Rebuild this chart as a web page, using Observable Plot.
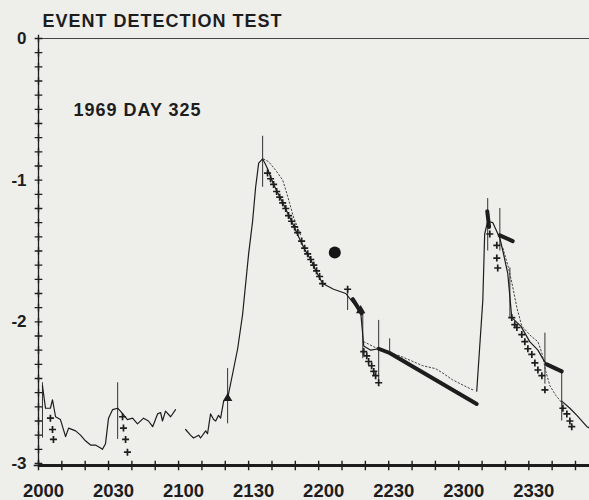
<!DOCTYPE html>
<html>
<head>
<meta charset="utf-8">
<script src="https://cdn.jsdelivr.net/npm/d3@7"></script>
<script src="https://cdn.jsdelivr.net/npm/@observablehq/plot@0.6"></script>
<style>
  body { margin: 0; background: #eeeeeb; }
  #chart svg { background: transparent; }
</style>
</head>
<body>
<div id="chart"></div>
<script>
// ---- data (x: minutes after 2000, y: value) ----
const titleText = ["EVENT DETECTION TEST"];
const noteText = ["1969 DAY 325"];
const xTickLabels = [0, 30, 60, 90, 120, 150, 180, 210];
const yTickLabels = [0, -1, -2, -3];

const trace1 = [[1.7,-2.45],[3.0,-2.61],[5.1,-2.61],[6.0,-2.55],[7.3,-2.67],[9.4,-2.69],[11.6,-2.81],[12.9,-2.75],[15.9,-2.77],[18.0,-2.80],[20.1,-2.84],[22.3,-2.87],[24.4,-2.87],[26.6,-2.89],[27.4,-2.90],[28.7,-2.86],[30.0,-2.68],[31.7,-2.62],[33.9,-2.61],[35.1,-2.63],[38.1,-2.69],[40.3,-2.68],[42.4,-2.72],[45.0,-2.68],[47.1,-2.70],[48.9,-2.74],[51.0,-2.65],[52.3,-2.64],[53.1,-2.70],[54.4,-2.63],[56.6,-2.67],[58.7,-2.62]];
const trace2 = [[63.0,-2.76],[65.1,-2.80],[66.4,-2.82],[68.6,-2.80],[69.4,-2.82],[71.6,-2.77],[72.4,-2.79],[73.7,-2.65],[75.0,-2.69],[75.9,-2.70],[77.1,-2.66],[78.0,-2.68],[79.3,-2.56],[81.0,-2.54],[83.1,-2.37],[85.3,-2.19],[87.4,-1.95],[90.0,-1.52],[91.7,-1.29],[93.0,-1.05],[94.3,-0.88],[96.0,-0.85],[97.0,-0.88],[98.1,-0.92],[100.7,-1.03],[104.6,-1.16],[108.4,-1.29],[111.4,-1.40],[114.0,-1.49],[116.6,-1.56],[119.1,-1.65],[121.7,-1.73],[126.4,-1.77],[131.6,-1.80],[135.0,-1.87],[138.0,-1.93],[139.3,-2.17],[142.3,-2.20],[145.7,-2.19]];
const trace3 = [[187.7,-2.49],[190.3,-1.85],[191.1,-1.38],[192.4,-1.29],[194.6,-1.30],[197.6,-1.41],[198.9,-1.50],[201.0,-1.66],[202.7,-1.97],[206.6,-2.03],[210.4,-2.14],[213.9,-2.20],[216.0,-2.26],[217.7,-2.30]];
const trace4 = [[224.1,-2.56],[227.6,-2.61],[230.6,-2.66],[234.9,-2.74],[236.0,-2.75]];

const dotted1 = [[96.4,-0.85],[98.6,-0.87],[101.6,-0.93],[104.6,-1.00],[106.3,-1.09],[107.5,-1.16],[109.2,-1.26],[110.9,-1.33],[112.3,-1.39]];
const dotted2 = [[139.3,-2.14],[145.3,-2.19],[154.7,-2.24],[164.6,-2.31],[170.0,-2.33],[173.0,-2.36],[177.4,-2.41],[183.4,-2.46],[186.0,-2.48]];
const dotted3 = [[198.9,-1.48],[201.0,-1.60],[202.7,-1.72],[204.9,-1.90],[207.0,-2.03],[210.9,-2.10],[213.9,-2.14],[215.6,-2.22],[217.3,-2.35],[219.0,-2.45],[221.6,-2.52],[224.6,-2.58]];

const heavy1 = [[145.7,-2.19],[150.4,-2.22],[187.7,-2.58]];
const heavy2 = [[197.6,-1.39],[203.1,-1.43]];
const heavy3 = [[217.7,-2.30],[224.1,-2.35]];
const heavy4 = [[192.2,-1.22],[193.0,-1.33]];
const heavy5 = [[134.6,-1.84],[138.4,-1.94]];

const plusMarks = [[5.1,-2.68],[6.0,-2.76],[6.4,-2.83],[36.0,-2.67],[36.4,-2.75],[37.3,-2.83],[38.1,-2.92],
  [98.1,-0.95],[99.4,-0.99],[100.7,-1.03],[102.0,-1.08],[103.3,-1.12],[104.6,-1.16],[105.9,-1.20],[107.1,-1.25],[108.4,-1.29],[109.7,-1.33],[111.0,-1.37],[112.7,-1.43],[114.0,-1.48],[115.3,-1.52],[116.6,-1.56],[117.9,-1.60],[119.1,-1.64],[120.4,-1.68],[121.7,-1.73],
  [132.4,-1.77],[139.3,-2.21],[140.6,-2.24],[141.4,-2.28],[142.7,-2.31],[143.6,-2.35],[144.4,-2.38],[145.7,-2.43],
  [193.3,-1.38],[196.3,-1.46],[196.3,-1.55],[196.7,-1.62],
  [202.7,-1.97],[204.0,-2.02],[204.9,-2.04],[207.0,-2.09],[208.3,-2.14],[209.6,-2.19],[211.3,-2.23],[212.6,-2.29],[213.9,-2.34],[215.6,-2.38],[216.9,-2.48],
  [224.6,-2.61],[226.3,-2.65],[227.6,-2.70],[228.4,-2.74]];

const spikeT  = [1.7, 33.9, 81.0, 96.0, 132.4, 138.9, 145.7, 150.4, 192.4, 197.6, 201.9, 216.9, 224.1];
const spikeV1 = [-2.43, -2.43, -2.33, -0.69, -1.78, -1.93, -1.99, -2.12, -1.13, -1.20, -1.62, -2.08, -2.34];
const spikeV2 = [-2.82, -2.83, -2.72, -1.05, -1.92, -2.26, -2.42, -2.22, -1.50, -1.50, -1.97, -2.44, -2.70];

const triMarks = [[81.0,-2.54],[138.0,-1.92]];
const blot = [[126.9,-1.51]];

// ---- helpers ----
const pts = (arr, seg) => arr.map(([t, v]) => ({t, v, seg}));
const fmtX = t => String(2000 + Math.floor(t / 60) * 100 + (t % 60));
const fmtY = v => v === 0 ? "0" : "-" + Math.abs(v);
const yMinor = d3.range(0, 31).map(i => -i / 10);
const xMinor = d3.range(0, 24).map(i => i * 10);
const spikes = spikeT.map((t, i) => ({t, v1: spikeV1[i], v2: spikeV2[i]}));
const traces = [...pts(trace1, 1), ...pts(trace2, 2), ...pts(trace3, 3), ...pts(trace4, 4)];
const dotted = [...pts(dotted1, 1), ...pts(dotted2, 2), ...pts(dotted3, 3)];
const heavy = [...pts(heavy1, 1), ...pts(heavy2, 2), ...pts(heavy3, 3), ...pts(heavy4, 4), ...pts(heavy5, 5)];

const ink = "#1d1d1d";
const font = "Liberation Sans, Arial, Helvetica, sans-serif";

const chart = Plot.plot({
  width: 589,
  height: 500,
  marginTop: 38,
  marginBottom: 37,
  marginLeft: 38,
  marginRight: 0,
  style: {background: "transparent", fontFamily: font, color: ink},
  x: {domain: [0, 236], label: null},
  y: {domain: [-3, 0], label: null},
  marks: [
    Plot.ruleY([0], {stroke: "#444", strokeWidth: 1}),
    Plot.ruleX([0], {stroke: ink, strokeWidth: 1.3}),
    Plot.ruleY([-3], {stroke: ink, strokeWidth: 3.2, dy: 2}),
    Plot.dot(yMinor, {y: d => d, frameAnchor: "left", symbol: "plus", r: 2.6, stroke: ink, strokeWidth: 1.4}),
    Plot.dot(xMinor, {x: d => d, frameAnchor: "bottom", symbol: "plus", r: 3.2, stroke: ink, strokeWidth: 1.4, dy: 2}),
    Plot.axisY({ticks: yTickLabels, tickFormat: fmtY, tickSize: 0, tickPadding: 12, fontSize: 17, fontWeight: "bold", label: null}),
    Plot.axisX({ticks: xTickLabels, tickFormat: fmtX, tickSize: 0, tickPadding: 20, fontSize: 18.5, fontWeight: "bold", dx: 5, label: null}),
    Plot.ruleX(spikes, {x: "t", y1: "v1", y2: "v2", stroke: "#333", strokeWidth: 1}),
    Plot.line(dotted, {x: "t", y: "v", z: "seg", stroke: "#444", strokeWidth: 1, strokeDasharray: "1.5,2.2"}),
    Plot.line(traces, {x: "t", y: "v", z: "seg", stroke: ink, strokeWidth: 1.2}),
    Plot.line(heavy, {x: "t", y: "v", z: "seg", stroke: ink, strokeWidth: 4, strokeLinecap: "round"}),
    Plot.dot(plusMarks, {x: d => d[0], y: d => d[1], symbol: "plus", r: 2.4, stroke: ink, strokeWidth: 1.7}),
    Plot.dot(triMarks, {x: d => d[0], y: d => d[1], symbol: "triangle", r: 3.5, fill: ink}),
    Plot.dot(blot, {x: d => d[0], y: d => d[1], r: 6, fill: "#151515"}),
    Plot.text(titleText, {text: d => d, frameAnchor: "top-left", dx: 4, dy: -17, textAnchor: "start", lineAnchor: "middle", fontSize: 18, fontWeight: "bold"}),
    Plot.text(noteText, {text: d => d, frameAnchor: "top-left", dx: 35, dy: 72, textAnchor: "start", lineAnchor: "middle", fontSize: 18, fontWeight: "bold"})
  ]
});
// widen the letter spacing of the two headings, as in the original lettering
d3.select(chart).selectAll("text")
  .filter(function () { const s = this.textContent; return s === titleText[0] || s === noteText[0]; })
  .attr("letter-spacing", "1px");
document.getElementById("chart").appendChild(chart);
</script>
</body>
</html>
